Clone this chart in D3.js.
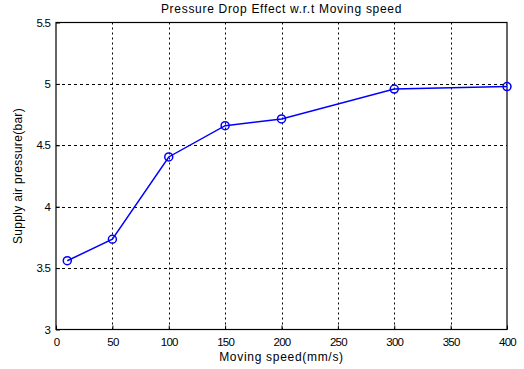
<!DOCTYPE html>
<html>
<head>
<meta charset="utf-8">
<script src="https://cdn.jsdelivr.net/npm/d3@7"></script>
<style>
  body { margin: 0; background: #fff; }
  text { font-family: "Liberation Sans", Arial, sans-serif; fill: #000; }
</style>
</head>
<body>
<svg id="chart" width="524" height="369"></svg>
<script>
// data
const speeds = [10, 50, 100, 150, 200, 300, 400];
const pressures = [3.56, 3.735, 4.405, 4.66, 4.715, 4.958, 4.978];
const xTicks = [0, 50, 100, 150, 200, 250, 300, 350, 400];
const yTicks = [3, 3.5, 4, 4.5, 5, 5.5];

const svg = d3.select("#chart");
const margin = { left: 56, right: 17, top: 22.5, bottom: 39.5 };
const width = 524 - margin.left - margin.right;
const height = 369 - margin.top - margin.bottom;

const x = d3.scaleLinear().domain([0, 400]).range([margin.left, margin.left + width]);
const y = d3.scaleLinear().domain([3, 5.5]).range([margin.top + height, margin.top]);

// grid
const grid = svg.append("g");
grid.selectAll(".vg")
  .data(xTicks.slice(1, -1))
  .join("line")
  .attr("x1", d => Math.round(x(d)) + 0.5)
  .attr("x2", d => Math.round(x(d)) + 0.5)
  .attr("y1", y(3))
  .attr("y2", y(5.5))
  .attr("stroke", "#000")
  .attr("stroke-dasharray", "2,3");
grid.selectAll(".hg")
  .data(yTicks.slice(1, -1))
  .join("line")
  .attr("x1", x(0))
  .attr("x2", x(400))
  .attr("y1", d => Math.round(y(d)) + 0.5)
  .attr("y2", d => Math.round(y(d)) + 0.5)
  .attr("stroke", "#000")
  .attr("stroke-dasharray", "3,3");

// axes
const xAxis = d3.axisBottom(x).tickValues(xTicks).tickSize(-4).tickPadding(8);
const yAxis = d3.axisLeft(y).tickValues(yTicks).tickSize(-4).tickPadding(6).tickFormat(d3.format("~g"));

const gx = svg.append("g").attr("transform", `translate(0,${y(3)})`).call(xAxis);
const gy = svg.append("g").attr("transform", `translate(${x(0)},0)`).call(yAxis);
gx.select(".domain").remove();
gy.select(".domain").remove();
[gx, gy].forEach(g => {
  g.selectAll("text")
    .style("font-size", "11.5px")
    .style("letter-spacing", "-0.8px")
    .attr("fill", "#000");
  g.selectAll("line").attr("stroke", "#000");
});

// box
svg.append("rect")
  .attr("x", x(0))
  .attr("y", y(5.5))
  .attr("width", x(400) - x(0))
  .attr("height", y(3) - y(5.5))
  .attr("fill", "none")
  .attr("stroke", "#000")
  .attr("stroke-width", 1.2);

// series
const line = d3.line().x((d, i) => x(speeds[i])).y(d => y(d));
svg.append("path")
  .datum(pressures)
  .attr("d", line)
  .attr("fill", "none")
  .attr("stroke", "#0000ff")
  .attr("stroke-width", 1.5);

svg.selectAll(".pt")
  .data(pressures)
  .join("circle")
  .attr("cx", (d, i) => x(speeds[i]))
  .attr("cy", d => y(d))
  .attr("r", 4)
  .attr("fill", "none")
  .attr("stroke", "#0000ff")
  .attr("stroke-width", 1.5);

// labels
svg.append("text")
  .attr("x", (x(0) + x(400)) / 2)
  .attr("y", 13)
  .attr("text-anchor", "middle")
  .style("font-size", "12px")
  .style("letter-spacing", "0.7px")
  .text("Pressure Drop Effect w.r.t Moving speed");

svg.append("text")
  .attr("x", (x(0) + x(400)) / 2)
  .attr("y", 361)
  .attr("text-anchor", "middle")
  .style("font-size", "12px")
  .style("letter-spacing", "0.7px")
  .text("Moving speed(mm/s)");

svg.append("text")
  .attr("transform", `translate(22,${(y(3) + y(5.5)) / 2}) rotate(-90)`)
  .attr("text-anchor", "middle")
  .style("font-size", "12px")
  .style("letter-spacing", "0.3px")
  .text("Supply air pressure(bar)");
</script>
</body>
</html>
